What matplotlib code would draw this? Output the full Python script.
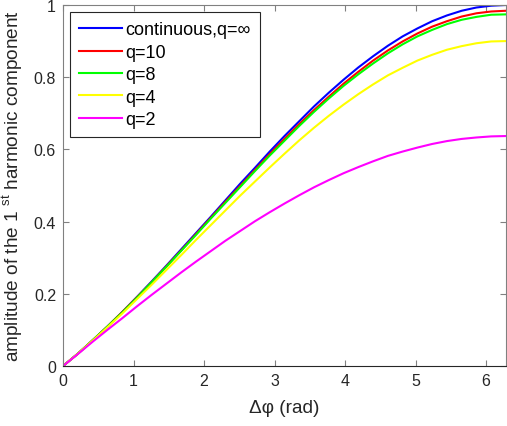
import numpy as np
import matplotlib.pyplot as plt

plt.rcParams['font.family'] = ['Liberation Sans', 'DejaVu Sans']
plt.rcParams['mathtext.fontset'] = 'custom'
plt.rcParams['mathtext.rm'] = 'Liberation Sans'

# phase difference (rad), 0..2pi
dphi = [0.0000, 0.2094, 0.4189, 0.6283, 0.8378, 1.0472, 1.2566, 1.4661, 1.6755, 1.8850,
        2.0944, 2.3038, 2.5133, 2.7227, 2.9322, 3.1416, 3.3510, 3.5605, 3.7699, 3.9794,
        4.1888, 4.3982, 4.6077, 4.8171, 5.0265, 5.2360, 5.4454, 5.6549, 5.8643, 6.0737,
        6.2832]

amp_cont = [0.000, 0.034, 0.071, 0.109, 0.149, 0.191, 0.234, 0.278, 0.323, 0.368,
            0.413, 0.459, 0.505, 0.549, 0.594, 0.637, 0.678, 0.719, 0.757, 0.793,
            0.827, 0.858, 0.887, 0.913, 0.935, 0.955, 0.971, 0.984, 0.993, 0.998, 1.000]
amp_q10 = [0.000, 0.034, 0.071, 0.109, 0.149, 0.190, 0.232, 0.276, 0.320, 0.365,
           0.410, 0.455, 0.499, 0.543, 0.587, 0.629, 0.670, 0.709, 0.746, 0.782,
           0.815, 0.846, 0.874, 0.899, 0.921, 0.940, 0.955, 0.968, 0.977, 0.982, 0.984]
amp_q8 = [0.000, 0.034, 0.071, 0.109, 0.148, 0.189, 0.232, 0.275, 0.319, 0.363,
          0.408, 0.452, 0.496, 0.540, 0.583, 0.624, 0.665, 0.704, 0.741, 0.776,
          0.808, 0.838, 0.866, 0.891, 0.913, 0.931, 0.947, 0.959, 0.967, 0.973, 0.974]
amp_q4 = [0.000, 0.034, 0.070, 0.107, 0.145, 0.185, 0.225, 0.266, 0.307, 0.349,
          0.390, 0.431, 0.472, 0.511, 0.550, 0.588, 0.625, 0.660, 0.693, 0.724,
          0.753, 0.780, 0.805, 0.826, 0.846, 0.862, 0.876, 0.886, 0.894, 0.899, 0.900]
amp_q2 = [0.000, 0.033, 0.067, 0.100, 0.132, 0.165, 0.197, 0.228, 0.259, 0.289,
          0.318, 0.347, 0.374, 0.401, 0.426, 0.450, 0.473, 0.495, 0.515, 0.534,
          0.551, 0.567, 0.582, 0.594, 0.605, 0.615, 0.623, 0.629, 0.633, 0.636, 0.637]

labels = ['continuous,q=\u221e', 'q=10', 'q=8', 'q=4', 'q=2']
colors = ['#0000ff', '#ff0000', '#00ff00', '#ffff00', '#ff00ff']
series = [amp_cont, amp_q10, amp_q8, amp_q4, amp_q2]

fig = plt.figure(figsize=(5.07, 4.27), dpi=100)
ax = fig.add_axes([0.1243, 0.1405, 0.8737, 0.8455])

for y, c, lab in zip(series, colors, labels):
    ax.plot(dphi, y, color=c, linewidth=1.5, label=lab)

ax.set_xlim(0, 2*np.pi)
ax.set_ylim(0, 1)
ax.set_xticks([0, 1, 2, 3, 4, 5, 6])
ax.set_yticks([0, 0.2, 0.4, 0.6, 0.8, 1])
ax.set_yticklabels(['0', '0.2', '0.4', '0.6', '0.8', '1'])
ax.tick_params(direction='in', length=4, width=0.8, top=True, right=True,
               labelsize=11.5, colors='#808080', labelcolor='#262626', pad=5)
for s in ['top', 'right', 'left']:
    ax.spines[s].set_color('#808080')
ax.spines['bottom'].set_color('#262626')

ax.set_xlabel('\u0394\u03c6 (rad)', fontsize=13.7, color='#262626', labelpad=8)
ax.set_ylabel(r'amplitude of the 1 $^{\mathrm{st}}$ harmonic component',
              fontsize=13.7, color='#262626', labelpad=6)

leg = ax.legend(loc='upper left', fontsize=13, handlelength=2.33, handletextpad=0.22,
                labelspacing=0.3, borderpad=0.52, fancybox=False, framealpha=1,
                edgecolor='#262626', bbox_to_anchor=(0.0, 1.0), borderaxespad=0.39)
leg.get_frame().set_linewidth(0.8)

fig.savefig('out.png', dpi=100)
